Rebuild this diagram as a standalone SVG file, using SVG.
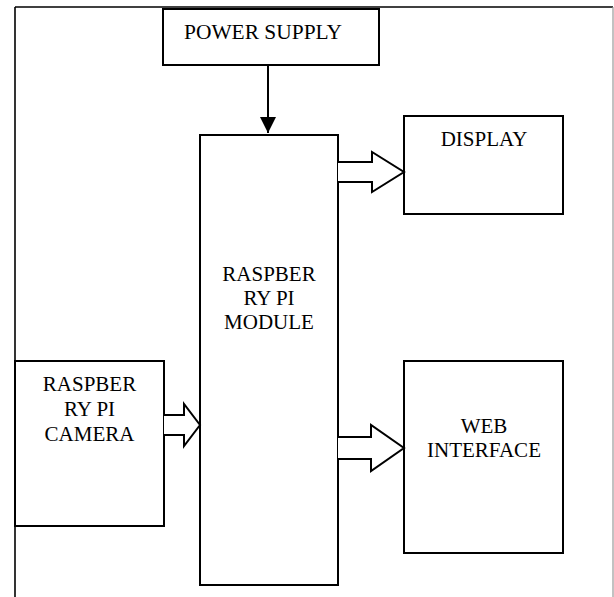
<svg xmlns="http://www.w3.org/2000/svg" width="614" height="597" viewBox="0 0 614 597">
<style>
.box{fill:#fff;stroke:#000;stroke-width:2}
.blk{fill:#fff;stroke:#000;stroke-width:2;stroke-linejoin:miter}
.t{font-family:'Liberation Serif','Times New Roman',Tinos,'DejaVu Serif',serif;font-size:21px;fill:#000;text-anchor:middle}
</style>
<defs>
<marker id="ah" markerWidth="16" markerHeight="18" refX="16" refY="8" orient="auto" markerUnits="userSpaceOnUse">
<path d="M0,0 L16,8 L0,16 Z" fill="#000"/>
</marker>
</defs>
<rect x="0" y="0" width="614" height="597" fill="#fff"/>
<g id="frame">
<line x1="15" y1="7" x2="15" y2="597" stroke="#000" stroke-width="1.6"/>
<line x1="15" y1="7" x2="613" y2="7" stroke="#000" stroke-width="1.6"/>
<line x1="613" y1="7" x2="613" y2="597" stroke="#999" stroke-width="1.2"/>
</g>
<g id="power">
<rect class="box" x="163" y="9" width="216" height="56"/>
<text class="t" x="263" y="39" textLength="158" lengthAdjust="spacingAndGlyphs">POWER SUPPLY</text>
</g>
<g id="module">
<rect class="box" x="200" y="135" width="138" height="450"/>
<text class="t" x="269" y="281">RASPBER</text>
<text class="t" x="269" y="305">RY PI</text>
<text class="t" x="269" y="329">MODULE</text>
</g>
<g id="display">
<rect class="box" x="404" y="116" width="159" height="98"/>
<text class="t" x="484" y="146">DISPLAY</text>
</g>
<g id="camera">
<rect class="box" x="15" y="361" width="149" height="165"/>
<text class="t" x="89.5" y="391">RASPBER</text>
<text class="t" x="89.5" y="416">RY PI</text>
<text class="t" x="89.5" y="441">CAMERA</text>
</g>
<g id="web">
<rect class="box" x="404" y="361" width="159" height="192"/>
<text class="t" x="484" y="433">WEB</text>
<text class="t" x="484" y="457">INTERFACE</text>
</g>
<g id="connectors">
<line x1="268" y1="65" x2="268" y2="133" stroke="#000" stroke-width="2" marker-end="url(#ah)"/>
<path class="blk" d="M338,162 L372,162 L372,152 L404,172 L372,192 L372,182 L338,182"/>
<path class="blk" d="M164,415 L184,415 L184,404 L200,425 L184,446 L184,435 L164,435"/>
<path class="blk" d="M338,437 L371,437 L371,425 L404,448 L371,471 L371,459 L338,459"/>
</g>
</svg>
